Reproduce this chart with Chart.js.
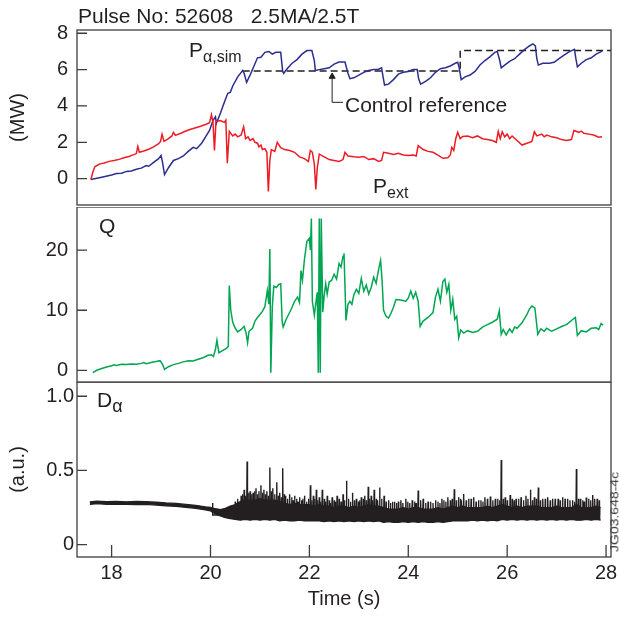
<!DOCTYPE html>
<html>
<head>
<meta charset="utf-8">
<script src="https://cdn.jsdelivr.net/npm/chart.js@4.4.0/dist/chart.umd.min.js"></script>
<style>
  body { margin: 0; background: #fff; }
  #wrap { position: relative; width: 619px; height: 617px; font-family: "Liberation Sans", Arial, Helvetica, sans-serif; color: #231f20; }
  canvas { position: absolute; left: 0; }
  .lbl { position: absolute; white-space: nowrap; line-height: 1; }
</style>
</head>
<body>
<div id="wrap">
  <canvas id="powerChart" width="619" height="210" style="top:0"></canvas>
  <canvas id="qChart" width="619" height="176" style="top:207px"></canvas>
  <canvas id="daChart" width="619" height="235" style="top:382px"></canvas>

  <div class="lbl" style="left:78px;top:5px;font-size:21px">Pulse No: 52608&nbsp;&nbsp;&nbsp;2.5MA/2.5T</div>
  <div class="lbl" style="left:189px;top:39px;font-size:21px">P<span style="font-size:16px;position:relative;top:5px">&alpha;,sim</span></div>
  <div class="lbl" style="left:345px;top:94px;font-size:21px">Control reference</div>
  <div class="lbl" style="left:373px;top:175px;font-size:21px">P<span style="font-size:16px;position:relative;top:5px">ext</span></div>
  <div class="lbl" style="left:99px;top:215px;font-size:21px">Q</div>
  <div class="lbl" style="left:97px;top:389px;font-size:21px">D<span style="font-size:18px;position:relative;top:5px">&alpha;</span></div>
  <div class="lbl" style="left:575px;top:505px;font-size:14px;color:#333;transform:rotate(-90deg) scaleY(0.72);transform-origin:center">JG03.648-4c</div>
</div>

<script>
// time axis and tick values
const timeRange = [17.3, 28.1];
const timeTicks = [18, 20, 22, 24, 26, 28];
const powerTicks = [0, 2, 4, 6, 8];
const qTicks = [0, 10, 20];
const daTicks = [0, 0.5, 1.0];
const daTickLabels = ['0', '0.5', '1.0'];

// P_alpha,sim (MW) - [time s, value]
const alphaPower = [[17.58,-0.05],[17.8,0.08],[18.0,0.2],[18.1,0.28],[18.2,0.3],[18.3,0.4],[18.4,0.42],[18.5,0.52],[18.6,0.58],[18.7,0.72],[18.75,0.68],[18.85,0.9],[18.95,1.1],[19.0,1.28],[19.03,0.9],[19.07,0.22],[19.15,0.6],[19.25,1.0],[19.35,1.1],[19.45,1.25],[19.55,1.5],[19.65,1.72],[19.72,1.65],[19.82,1.95],[19.9,2.3],[19.98,2.65],[20.05,3.2],[20.1,3.4],[20.12,3.05],[20.2,3.6],[20.28,4.2],[20.35,4.7],[20.4,4.75],[20.45,5.1],[20.55,5.6],[20.65,5.95],[20.68,5.8],[20.73,5.3],[20.8,5.7],[20.88,6.2],[20.95,6.65],[21.02,6.68],[21.1,6.95],[21.18,7.0],[21.25,6.85],[21.32,6.95],[21.42,6.95],[21.46,5.9],[21.48,5.8],[21.55,6.05],[21.65,6.35],[21.75,6.55],[21.85,6.85],[21.95,7.05],[22.05,7.05],[22.1,6.5],[22.12,5.95],[22.2,6.0],[22.3,6.05],[22.4,6.1],[22.5,6.3],[22.6,6.42],[22.72,6.42],[22.78,5.8],[22.82,5.5],[22.9,5.55],[23.0,5.7],[23.1,5.85],[23.2,5.95],[23.3,6.0],[23.4,6.02],[23.46,6.1],[23.49,5.6],[23.52,5.15],[23.6,5.2],[23.7,5.45],[23.8,5.75],[23.9,5.85],[24.0,5.9],[24.1,6.0],[24.18,6.0],[24.21,5.5],[24.25,5.2],[24.35,5.35],[24.45,5.55],[24.55,5.85],[24.65,6.05],[24.75,6.1],[24.85,6.2],[24.95,6.35],[25.0,6.4],[25.03,6.1],[25.07,5.45],[25.15,5.6],[25.25,5.7],[25.35,5.9],[25.45,6.25],[25.55,6.5],[25.65,6.7],[25.75,6.95],[25.8,7.0],[25.85,6.5],[25.88,6.1],[25.95,6.25],[26.05,6.45],[26.15,6.6],[26.25,6.85],[26.35,7.1],[26.45,7.3],[26.52,7.42],[26.57,7.3],[26.6,6.6],[26.63,6.25],[26.72,6.35],[26.85,6.35],[26.95,6.4],[27.05,6.6],[27.15,6.8],[27.25,6.98],[27.36,7.12],[27.39,6.6],[27.42,6.15],[27.5,6.35],[27.6,6.55],[27.7,6.65],[27.8,6.85],[27.92,7.02]];

// P_ext (MW)
const extPower = [[17.58,-0.05],[17.62,0.35],[17.66,0.65],[17.75,0.8],[17.85,0.86],[17.95,0.95],[18.05,1.0],[18.15,1.06],[18.25,1.15],[18.35,1.22],[18.45,1.32],[18.5,1.38],[18.53,1.78],[18.56,1.45],[18.65,1.52],[18.75,1.62],[18.85,1.75],[18.95,1.92],[18.99,2.05],[19.02,2.45],[19.06,2.05],[19.15,2.2],[19.22,2.35],[19.25,2.55],[19.29,2.38],[19.4,2.5],[19.5,2.62],[19.6,2.72],[19.7,2.8],[19.8,2.88],[19.9,2.98],[19.98,3.08],[20.02,3.52],[20.05,3.1],[20.08,1.55],[20.11,3.15],[20.2,3.2],[20.28,3.1],[20.31,3.22],[20.34,0.85],[20.38,2.6],[20.45,2.35],[20.5,2.45],[20.55,2.3],[20.62,2.4],[20.67,2.85],[20.71,2.2],[20.76,2.3],[20.8,2.1],[20.86,2.2],[20.9,2.0],[20.95,1.95],[20.98,1.75],[21.02,1.85],[21.05,1.6],[21.1,1.65],[21.14,1.45],[21.17,-0.7],[21.2,1.0],[21.23,1.6],[21.3,1.5],[21.35,2.0],[21.42,1.7],[21.5,1.6],[21.6,1.55],[21.7,1.45],[21.8,1.2],[21.9,1.1],[21.98,0.95],[22.02,1.55],[22.06,1.45],[22.1,0.8],[22.13,-0.6],[22.16,0.6],[22.2,1.35],[22.3,1.2],[22.4,1.05],[22.5,1.0],[22.6,0.95],[22.68,1.05],[22.72,1.45],[22.78,1.25],[22.9,1.2],[23.0,1.18],[23.1,1.22],[23.2,1.05],[23.3,1.1],[23.4,0.95],[23.46,1.0],[23.5,1.45],[23.6,1.4],[23.7,1.33],[23.8,1.4],[23.9,1.3],[24.0,1.28],[24.1,1.3],[24.16,1.25],[24.2,1.82],[24.3,1.6],[24.4,1.5],[24.5,1.45],[24.6,1.3],[24.7,1.12],[24.8,1.15],[24.85,1.3],[24.88,1.72],[24.92,1.55],[24.96,2.2],[25.0,2.55],[25.05,2.2],[25.1,2.32],[25.2,2.35],[25.3,2.25],[25.4,2.35],[25.5,2.2],[25.6,2.15],[25.7,2.1],[25.78,2.0],[25.82,2.6],[25.86,2.2],[25.9,2.58],[25.95,2.3],[26.0,2.45],[26.05,2.2],[26.1,2.35],[26.2,2.1],[26.3,1.85],[26.4,1.95],[26.5,2.05],[26.55,2.58],[26.6,2.35],[26.7,2.45],[26.75,2.3],[26.8,2.4],[26.9,2.3],[27.0,2.25],[27.1,2.15],[27.2,2.1],[27.3,2.15],[27.35,2.65],[27.45,2.55],[27.5,2.62],[27.55,2.5],[27.65,2.45],[27.75,2.4],[27.85,2.28],[27.92,2.3]];

// control reference (MW)
const controlRef = [[20.65,5.92],[25.05,5.92],[25.05,7.05],[28.1,7.05]];
// pointer from the "Control reference" label
const refPointer = [[22.68,4.2],[22.46,4.2],[22.46,5.62]];

// Q
const qValues = [[17.62,-0.4],[17.7,0.0],[17.8,0.3],[17.9,0.55],[18.0,0.75],[18.05,0.9],[18.1,0.8],[18.2,1.0],[18.3,0.95],[18.4,1.05],[18.5,1.0],[18.6,1.15],[18.65,1.3],[18.7,1.1],[18.8,1.3],[18.9,1.45],[18.98,1.6],[19.03,1.0],[19.07,0.15],[19.15,0.6],[19.25,0.95],[19.35,1.15],[19.45,1.4],[19.55,1.6],[19.65,1.55],[19.75,1.85],[19.85,2.1],[19.95,2.5],[20.02,2.6],[20.06,2.3],[20.1,3.5],[20.13,5.0],[20.17,2.9],[20.25,3.3],[20.33,3.7],[20.36,4.0],[20.38,14.1],[20.41,10.0],[20.45,8.0],[20.5,7.0],[20.55,6.4],[20.62,6.8],[20.68,7.3],[20.72,6.2],[20.75,4.6],[20.78,6.5],[20.85,7.0],[20.9,8.2],[20.95,8.8],[21.0,9.3],[21.05,9.8],[21.1,10.6],[21.15,13.3],[21.18,11.0],[21.2,20.2],[21.22,-0.4],[21.25,10.6],[21.28,14.0],[21.33,13.8],[21.38,14.3],[21.42,14.4],[21.45,8.0],[21.47,7.2],[21.52,8.3],[21.58,9.3],[21.64,10.3],[21.7,11.5],[21.76,12.2],[21.8,11.3],[21.83,16.6],[21.86,15.0],[21.9,18.5],[21.95,21.5],[22.0,22.0],[22.02,20.0],[22.04,25.3],[22.06,11.5],[22.1,9.2],[22.14,11.8],[22.16,13.0],[22.18,-0.4],[22.2,25.3],[22.22,-0.4],[22.24,25.3],[22.27,9.7],[22.3,12.5],[22.33,14.4],[22.36,12.7],[22.4,14.7],[22.45,15.0],[22.5,16.0],[22.55,15.2],[22.6,17.8],[22.64,17.2],[22.68,19.0],[22.7,19.5],[22.74,8.3],[22.78,11.0],[22.82,11.5],[22.86,11.0],[22.9,12.6],[22.95,13.5],[23.0,12.8],[23.05,15.3],[23.1,13.2],[23.15,14.2],[23.2,12.7],[23.25,13.8],[23.3,15.5],[23.35,14.5],[23.4,16.8],[23.44,18.3],[23.47,15.0],[23.5,10.0],[23.55,9.0],[23.6,8.7],[23.65,9.5],[23.7,10.5],[23.75,11.8],[23.85,11.7],[23.95,11.5],[24.0,12.0],[24.05,13.2],[24.1,12.0],[24.15,13.0],[24.2,11.5],[24.24,7.3],[24.3,8.2],[24.4,8.8],[24.5,9.6],[24.55,12.2],[24.6,13.5],[24.65,11.5],[24.7,14.8],[24.74,15.2],[24.78,13.0],[24.82,14.3],[24.86,10.0],[24.9,11.8],[24.94,8.5],[24.98,9.0],[25.02,5.4],[25.06,6.7],[25.12,6.2],[25.2,6.6],[25.3,6.3],[25.4,6.5],[25.5,7.2],[25.6,7.6],[25.7,8.0],[25.8,8.5],[25.84,9.9],[25.88,6.0],[25.92,6.8],[25.98,5.9],[26.05,6.9],[26.1,6.3],[26.15,7.2],[26.2,7.0],[26.3,7.9],[26.35,8.6],[26.4,9.3],[26.45,10.2],[26.5,10.7],[26.56,10.4],[26.62,6.0],[26.68,6.9],[26.75,6.5],[26.8,7.0],[26.9,6.5],[27.0,6.9],[27.1,7.3],[27.2,7.6],[27.3,8.3],[27.38,8.8],[27.42,5.8],[27.5,6.6],[27.6,6.4],[27.7,7.0],[27.8,7.1],[27.85,6.8],[27.9,7.8],[27.94,7.5]];

// D_alpha solid band: [time, upper, lower] (a.u.)
const daBand = [[17.56,0.289,0.271],[17.7,0.294,0.276],[17.9,0.29,0.272],[18.1,0.292,0.271],[18.3,0.289,0.272],[18.5,0.292,0.27],[18.7,0.29,0.272],[18.9,0.286,0.267],[19.1,0.281,0.262],[19.3,0.278,0.258],[19.5,0.271,0.252],[19.7,0.265,0.245],[19.9,0.255,0.234],[20.0,0.251,0.228],[20.1,0.242,0.208],[20.2,0.236,0.194],[20.3,0.245,0.182],[20.4,0.26,0.176],[20.5,0.27,0.17],[20.6,0.29,0.165],[20.7,0.3,0.17],[20.8,0.3,0.165],[20.9,0.3,0.17],[21.0,0.31,0.165],[21.1,0.3,0.17],[21.2,0.3,0.165],[21.3,0.3,0.17],[21.4,0.29,0.16],[21.5,0.28,0.165],[21.6,0.27,0.16],[21.7,0.28,0.16],[21.8,0.27,0.165],[21.9,0.27,0.16],[22.0,0.27,0.16],[22.1,0.26,0.16],[22.2,0.27,0.16],[22.3,0.26,0.155],[22.4,0.26,0.16],[22.5,0.25,0.155],[22.6,0.26,0.16],[22.7,0.26,0.155],[22.8,0.25,0.16],[22.9,0.26,0.155],[23.0,0.25,0.16],[23.1,0.26,0.155],[23.2,0.27,0.16],[23.3,0.26,0.155],[23.4,0.26,0.16],[23.5,0.25,0.15],[23.6,0.24,0.155],[23.7,0.24,0.15],[23.8,0.24,0.15],[23.9,0.25,0.155],[24.0,0.24,0.15],[24.1,0.25,0.155],[24.2,0.25,0.15],[24.3,0.24,0.155],[24.4,0.24,0.15],[24.5,0.24,0.15],[24.6,0.25,0.155],[24.7,0.24,0.15],[24.8,0.25,0.155],[24.9,0.26,0.16],[25.0,0.25,0.16],[25.1,0.26,0.16],[25.2,0.25,0.16],[25.3,0.25,0.165],[25.4,0.25,0.16],[25.5,0.25,0.165],[25.6,0.26,0.16],[25.7,0.25,0.165],[25.8,0.26,0.16],[25.9,0.27,0.17],[26.0,0.26,0.165],[26.1,0.25,0.17],[26.2,0.26,0.165],[26.3,0.25,0.17],[26.4,0.26,0.165],[26.5,0.26,0.17],[26.6,0.26,0.165],[26.7,0.25,0.17],[26.8,0.25,0.165],[26.9,0.25,0.17],[27.0,0.26,0.165],[27.1,0.25,0.17],[27.2,0.25,0.165],[27.3,0.25,0.17],[27.4,0.27,0.165],[27.5,0.25,0.165],[27.6,0.25,0.17],[27.7,0.25,0.165],[27.8,0.26,0.17],[27.89,0.25,0.165]];

// D_alpha ELM spikes: [time, peak]
const daSpikes = [[20.04,0.28],[20.62,0.33],[20.68,0.37],[20.74,0.56],[20.8,0.36],[20.86,0.35],[20.92,0.38],[20.98,0.36],[21.02,0.4],[21.08,0.37],[21.14,0.36],[21.2,0.52],[21.26,0.38],[21.34,0.42],[21.4,0.35],[21.46,0.515],[21.52,0.33],[21.6,0.34],[21.7,0.33],[21.8,0.32],[21.9,0.33],[22.02,0.4],[22.08,0.33],[22.14,0.37],[22.2,0.32],[22.26,0.37],[22.36,0.33],[22.46,0.32],[22.56,0.33],[22.68,0.34],[22.75,0.43],[22.87,0.35],[22.95,0.31],[23.05,0.32],[23.12,0.33],[23.19,0.39],[23.25,0.33],[23.31,0.37],[23.42,0.385],[23.51,0.33],[23.6,0.3],[23.72,0.29],[23.85,0.3],[23.95,0.31],[24.08,0.3],[24.2,0.365],[24.3,0.31],[24.4,0.29],[24.55,0.3],[24.68,0.31],[24.8,0.32],[24.93,0.374],[25.02,0.32],[25.12,0.342],[25.22,0.31],[25.32,0.32],[25.42,0.3],[25.55,0.32],[25.66,0.324],[25.76,0.31],[25.88,0.57],[25.96,0.32],[26.06,0.335],[26.18,0.31],[26.28,0.32],[26.38,0.33],[26.47,0.37],[26.55,0.32],[26.63,0.385],[26.72,0.31],[26.82,0.32],[26.92,0.31],[27.03,0.31],[27.12,0.32],[27.22,0.31],[27.32,0.3],[27.4,0.51],[27.48,0.31],[27.6,0.318],[27.73,0.335],[27.82,0.31]];

// D_alpha small fluctuations above the band: [time, peak]
const daGrass = [[20.5,0.29],[20.55,0.31],[20.65,0.34],[20.71,0.33],[20.77,0.35],[20.83,0.34],[20.89,0.36],[20.95,0.34],[21.05,0.35],[21.11,0.34],[21.17,0.33],[21.23,0.36],[21.3,0.34],[21.37,0.33],[21.43,0.32],[21.49,0.34],[21.56,0.31],[21.64,0.32],[21.67,0.3],[21.74,0.31],[21.77,0.29],[21.84,0.3],[21.87,0.31],[21.94,0.29],[21.98,0.31],[22.05,0.3],[22.11,0.31],[22.17,0.3],[22.23,0.29],[22.3,0.31],[22.33,0.29],[22.4,0.3],[22.43,0.28],[22.5,0.3],[22.53,0.29],[22.6,0.31],[22.64,0.29],[22.71,0.3],[22.79,0.31],[22.83,0.29],[22.91,0.3],[22.99,0.29],[23.02,0.3],[23.09,0.31],[23.15,0.3],[23.22,0.31],[23.28,0.3],[23.35,0.31],[23.38,0.3],[23.46,0.31],[23.55,0.29],[23.64,0.28],[23.68,0.29],[23.76,0.28],[23.8,0.29],[23.89,0.28],[23.99,0.29],[24.03,0.28],[24.13,0.29],[24.16,0.28],[24.25,0.3],[24.35,0.28],[24.45,0.29],[24.5,0.28],[24.6,0.29],[24.64,0.28],[24.72,0.3],[24.76,0.29],[24.85,0.3],[24.89,0.31],[24.97,0.3],[25.06,0.31],[25.08,0.3],[25.17,0.3],[25.27,0.31],[25.37,0.29],[25.47,0.3],[25.51,0.29],[25.6,0.31],[25.71,0.3],[25.81,0.31],[25.85,0.3],[25.92,0.31],[26.0,0.3],[26.1,0.31],[26.14,0.3],[26.23,0.31],[26.33,0.3],[26.42,0.31],[26.51,0.3],[26.59,0.31],[26.67,0.3],[26.77,0.31],[26.87,0.3],[26.97,0.31],[27.07,0.3],[27.17,0.31],[27.27,0.3],[27.36,0.29],[27.44,0.31],[27.53,0.3],[27.56,0.29],[27.65,0.31],[27.69,0.3],[27.77,0.31],[27.86,0.3]];

const ink = '#231f20';
const fam = '"Liberation Sans", Arial, Helvetica, sans-serif';
const toXY = arr => arr.map(p => ({x: p[0], y: p[1]}));

// box round each panel and inward tick marks
const frame = {
  id: 'frame',
  afterDraw(chart, args, o) {
    const {ctx, chartArea: a, scales} = chart;
    ctx.save();
    ctx.strokeStyle = '#3d3d3d';
    ctx.lineWidth = 1.3;
    ctx.strokeRect(a.left, a.top, a.right - a.left, a.bottom - a.top);
    ctx.beginPath();
    scales.y.ticks.forEach(t => {
      const y = scales.y.getPixelForValue(t.value);
      ctx.moveTo(a.left, y);
      ctx.lineTo(a.left + 10, y);
    });
    if (o.xTicks) {
      scales.x.ticks.forEach(t => {
        const x = scales.x.getPixelForValue(t.value);
        ctx.moveTo(x, a.bottom);
        ctx.lineTo(x, a.bottom - 12);
      });
    }
    ctx.stroke();
    ctx.restore();
  }
};

// stop the scales from pushing the plot area in for their end labels
function noEdgePadding(s) {
  s.paddingTop = 0; s.paddingBottom = 0; s.paddingLeft = 0; s.paddingRight = 0;
}

function line(data, color, width, extra) {
  return Object.assign({data: data, borderColor: color, backgroundColor: color, borderWidth: width,
    showLine: true, pointRadius: 0, fill: false}, extra || {});
}

// spikes drawn up from the band: base -> peak -> base
function spikeLine(list) {
  const pts = [];
  list.forEach(s => {
    pts.push({x: s[0] - 0.008, y: 0.2}, {x: s[0], y: s[1]}, {x: s[0] + 0.008, y: 0.2});
  });
  return pts;
}

function makePanel(id, datasets, y, pad, showX) {
  return new Chart(document.getElementById(id), {
    type: 'scatter',
    data: {datasets: datasets},
    options: {
      responsive: false,
      animation: false,
      events: [],
      layout: {padding: pad},
      plugins: {legend: {display: false}, tooltip: {enabled: false}, frame: {xTicks: showX}},
      elements: {line: {tension: 0}},
      scales: {
        x: {
          type: 'linear', min: timeRange[0], max: timeRange[1], display: showX,
          afterBuildTicks: s => { s.ticks = timeTicks.map(v => ({value: v})); },
          afterFit: s => { noEdgePadding(s); if (showX) s.height = 60; },
          grid: {display: false, drawTicks: false},
          border: {display: false},
          ticks: {padding: 4, color: ink, font: {size: 20, family: fam}},
          title: {display: true, text: 'Time (s)', color: ink, font: {size: 20, family: fam}, padding: {top: 0, bottom: 6}}
        },
        y: {
          min: y.min, max: y.max,
          afterBuildTicks: s => { s.ticks = y.ticks.map(v => ({value: v})); },
          afterFit: s => { noEdgePadding(s); s.width = 77; },
          grid: {display: false, drawTicks: false},
          border: {display: false},
          ticks: {padding: y.pad, color: ink, font: {size: 20, family: fam}, callback: y.label},
          title: {display: !!y.title, text: y.title || '', color: ink, font: {size: 20, family: fam}, padding: {top: 6, bottom: 0}}
        }
      }
    },
    plugins: [frame]
  });
}

// top panel: powers
makePanel('powerChart', [
  line(toXY(extPower), '#ed1c24', 1.5),
  line(toXY(alphaPower), '#2b2e8f', 1.5),
  line(toXY(controlRef), ink, 1.5, {borderDash: [7, 4]}),
  line(toXY(refPointer), ink, 1, {pointRadius: [0, 0, 3.5], pointStyle: 'triangle'})
], {min: -1.45, max: 8.18, ticks: powerTicks, pad: 9, title: '(MW)', label: v => String(v)},
   {left: 0, right: 8, top: 30, bottom: 3}, false);

// middle panel: Q
makePanel('qChart', [
  line(toXY(qValues), '#00a651', 1.5)
], {min: -1.95, max: 27.2, ticks: qTicks, pad: 9, title: '', label: v => String(v)},
   {left: 0, right: 8, top: 0, bottom: 1}, false);

// bottom panel: D alpha
makePanel('daChart', [
  line(daBand.map(b => ({x: b[0], y: b[2]})), ink, 1.3),
  line(daBand.map(b => ({x: b[0], y: b[1]})), ink, 1.3, {fill: '-1'}),
  line(spikeLine(daGrass), ink, 1.3),
  line(spikeLine(daSpikes), ink, 1.4)
], {min: -0.083, max: 1.096, ticks: daTicks, pad: 3, title: '(a.u.)',
    label: v => daTickLabels[daTicks.indexOf(v)]},
   {left: 0, right: 8, top: 0, bottom: 0}, true);
</script>
</body>
</html>
